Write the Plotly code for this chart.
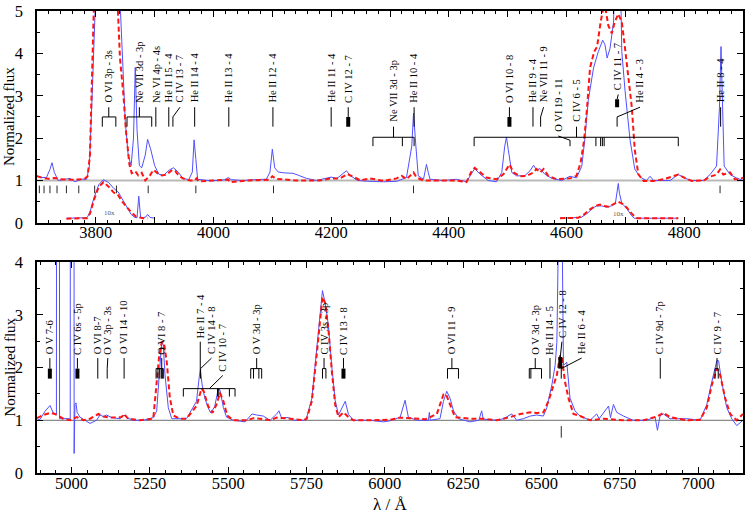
import plotly.graph_objects as go

FONT = "Liberation Serif"

# ---------------- data : upper panel (3700 - 4900 A) ----------------
top_obs_wl = [3700, 3708, 3716, 3722, 3725.5, 3729.5, 3736, 3747.6, 3756, 3764.6, 3776, 3784.4, 3789, 3793, 3797,
              3803, 3812, 3822, 3834, 3840, 3845, 3850, 3855, 3860, 3864, 3867, 3870, 3874, 3878, 3884, 3888,
              3893, 3900, 3907, 3915, 3925, 3932, 3940, 3948, 3958, 3964, 3967, 3970, 3973, 3990, 4010, 4020,
              4025, 4030, 4050, 4070, 4090, 4096, 4100, 4104, 4110, 4120, 4135, 4145, 4158, 4175, 4190, 4200,
              4210, 4220, 4226, 4232, 4245, 4266, 4289, 4311, 4328, 4337, 4340, 4344, 4348, 4357, 4359.5, 4362,
              4365, 4368, 4391, 4413, 4430, 4439, 4444, 4453, 4467, 4481, 4490, 4495, 4498, 4501, 4507, 4515,
              4529, 4538, 4544, 4549, 4555, 4563, 4575, 4592, 4606, 4617, 4626, 4631, 4637, 4646, 4654, 4661.5,
              4665.5, 4669, 4674, 4680, 4683, 4688, 4692, 4694, 4699.5, 4708, 4716, 4725, 4736, 4742, 4748,
              4776, 4790, 4801, 4810, 4833, 4844, 4855, 4860, 4862.6, 4865.5, 4868, 4878, 4889, 4900]
top_obs_fx = [1.11, 1.07, 1.07, 1.26, 1.42, 1.19, 1.0, 1.03, 1.05, 0.97, 1.03, 1.03, 1.34, 2.73, 5.6,
              8.5, 10.2, 9.0, 7.6, 5.6, 3.8, 2.4, 1.6, 1.35, 2.0, 3.67, 2.2, 1.35, 1.3, 1.6, 1.97,
              1.75, 1.35, 1.15, 1.12, 1.25, 1.3, 1.2, 1.05, 1.02, 1.2, 1.96, 1.5, 1.03, 1.0, 1.0, 1.02,
              1.07, 1.02, 1.0, 1.02, 1.03, 1.2, 1.74, 1.3, 1.2, 1.18, 1.17, 1.12, 1.05, 1.0, 1.05, 1.08,
              1.05, 1.15, 1.23, 1.12, 1.0, 0.98, 0.97, 0.98, 1.07, 1.81, 2.59, 1.81, 1.11, 1.03, 1.26, 1.38,
              1.19, 1.03, 1.0, 1.03, 0.97, 1.19, 1.28, 1.15, 1.0, 0.97, 1.19, 1.81, 2.02, 1.73, 1.19, 1.11,
              1.11, 1.23, 1.36, 1.25, 1.28, 1.15, 1.05, 1.0, 1.1, 1.06, 1.34, 1.96, 2.89, 3.66, 4.04, 4.31,
              4.2, 3.89, 4.12, 4.74, 5.6, 9.2, 5.6, 4.04, 3.12, 1.96, 1.27, 1.08, 1.0, 1.1, 1.0,
              1.0, 1.14, 1.06, 1.0, 1.0, 1.14, 1.34, 2.73, 4.16, 2.73, 1.34, 1.14, 1.06, 1.0]

top_mod_wl = [3700, 3710, 3720, 3730, 3740, 3760, 3780, 3786, 3790, 3794, 3797, 3805, 3813, 3825, 3836, 3841,
              3847, 3851, 3854, 3857, 3861, 3867, 3872, 3878, 3884, 3892, 3898, 3904, 3912, 3920, 3930, 3935,
              3942, 3950, 3960, 3968, 3971, 3975, 4000, 4025, 4028, 4060, 4095, 4100, 4106, 4140, 4180, 4200,
              4215, 4228, 4240, 4250, 4266, 4289, 4311, 4320, 4328, 4340, 4345, 4357, 4379, 4413, 4430, 4439,
              4444, 4453, 4464, 4481, 4493, 4503, 4510, 4521, 4532, 4544, 4549, 4555, 4561, 4569, 4583, 4606,
              4617, 4624, 4630, 4635, 4640, 4647, 4652, 4658, 4663, 4667, 4671, 4677, 4682, 4688, 4694, 4699.5,
              4705, 4711, 4716, 4722, 4731, 4748, 4765, 4782, 4790, 4801, 4813, 4833, 4844, 4855, 4861, 4866.5,
              4878, 4886, 4895, 4900]
top_mod_fx = [1.1, 1.06, 1.04, 1.06, 1.03, 1.02, 1.03, 1.1, 1.6, 3.5, 5.3, 8.5, 9.6, 8.0, 5.5, 3.9,
              3.0, 2.2, 1.7, 1.38, 1.17, 1.22, 1.12, 1.18, 1.0, 1.12, 1.25, 1.18, 1.12, 1.14, 1.25, 1.22,
              1.1, 1.04, 1.0, 1.0, 1.05, 0.98, 1.0, 1.02, 0.96, 1.0, 1.02, 1.1, 1.04, 1.0, 1.0, 1.05,
              1.05, 1.15, 1.07, 1.0, 1.05, 0.99, 1.05, 1.11, 1.03, 1.19, 1.07, 1.0, 1.0, 1.0, 0.96, 1.23,
              1.3, 1.19, 1.07, 1.03, 1.15, 1.38, 1.19, 1.1, 1.11, 1.19, 1.27, 1.19, 1.27, 1.11, 1.03, 1.05,
              1.11, 1.42, 1.96, 2.73, 3.66, 4.04, 4.16, 4.74, 5.1, 5.0, 4.66, 4.47, 4.74, 4.93, 4.74, 4.12,
              3.5, 2.73, 1.73, 1.15, 0.99, 0.99, 1.03, 1.11, 1.14, 1.06, 0.99, 1.0, 1.09, 1.14, 1.26, 1.14,
              1.19, 1.03, 1.03, 1.07]

# strong lines reduced by a factor 10
ins_ovi_obs_wl = [3750, 3785, 3790, 3797, 3805, 3813, 3822, 3830, 3838, 3845, 3853, 3860, 3866, 3870, 3873,
                  3876, 3880, 3885, 3888, 3892, 3900]
ins_ovi_obs_fx = [0.11, 0.12, 0.25, 0.6, 0.9, 1.02, 0.95, 0.82, 0.73, 0.55, 0.35, 0.2, 0.13, 0.12, 0.63,
                  0.14, 0.12, 0.14, 0.2, 0.13, 0.11]
ins_ovi_mod_wl = [3750, 3785, 3790, 3797, 3805, 3813, 3822, 3830, 3838, 3845, 3857, 3868, 3880, 3888]
ins_ovi_mod_fx = [0.1, 0.11, 0.22, 0.55, 0.85, 0.96, 0.85, 0.72, 0.65, 0.5, 0.3, 0.15, 0.11, 0.11]

ins_heii_obs_wl = [4589, 4625, 4635, 4645, 4651, 4660, 4668, 4676, 4683, 4686, 4688, 4690, 4694, 4702, 4710,
                   4715, 4790]
ins_heii_obs_fx = [0.11, 0.13, 0.22, 0.35, 0.4, 0.4, 0.37, 0.4, 0.45, 0.7, 0.93, 0.7, 0.46, 0.35, 0.18,
                   0.11, 0.11]
ins_heii_mod_wl = [4589, 4620, 4630, 4640, 4650, 4657, 4665, 4671, 4680, 4688, 4695, 4703, 4712, 4720, 4790]
ins_heii_mod_fx = [0.11, 0.12, 0.2, 0.32, 0.4, 0.43, 0.4, 0.38, 0.44, 0.5, 0.45, 0.35, 0.2, 0.11, 0.11]

# ---------------- data : lower panel (4890 - 7143 A) ----------------
bot_obs_wl = [4890, 4900, 4915.5, 4931.5, 4942, 4950.6, 4952, 4954, 4960, 4962, 4985, 4996, 4998.5, 5007,
              5008.5, 5011, 5014.5, 5018, 5027, 5059, 5080, 5091, 5102, 5112, 5128, 5155, 5167.7, 5176, 5197,
              5229, 5261, 5272, 5280, 5288, 5293, 5298.5, 5309, 5320, 5367, 5388.7, 5399, 5406, 5411, 5417,
              5425.6, 5436, 5444.5, 5457, 5468.7, 5474, 5484.8, 5495, 5516.6, 5554, 5576, 5591, 5612, 5634,
              5655, 5662, 5670, 5693, 5709, 5741, 5750.8, 5767, 5783, 5793.5, 5801, 5809.7, 5820, 5831, 5841.5,
              5852, 5863, 5873.7, 5884, 5900, 5953, 5995.5, 6017, 6049, 6064.6, 6075, 6102, 6139, 6142, 6145,
              6176, 6187, 6197.6, 6208, 6219, 6235, 6272, 6300, 6309, 6314, 6357, 6378.5, 6405, 6421, 6442,
              6464, 6485, 6506, 6517, 6533, 6543.4, 6549, 6554, 6557, 6563, 6566, 6570, 6580.6, 6586, 6591,
              6607, 6623, 6655, 6676, 6684, 6714, 6720, 6729.6, 6740, 6761.5, 6793, 6836, 6862.5, 6870, 6878.5,
              6889, 6910, 6964, 7006, 7027.5, 7043.5, 7059.5, 7065, 7075, 7091, 7107, 7123, 7143]
bot_obs_fx = [1.0, 1.02, 1.17, 1.28, 1.14, 1.1, 1.1, 30, 30, 1.03, 1.03, 1.03, 30, 30,
              0.37, 1.3, 1.33, 1.15, 1.06, 0.94, 1.0, 1.1, 1.07, 1.1, 1.05, 1.03, 1.1, 1.05, 1.0,
              1.0, 1.05, 1.18, 1.85, 2.48, 2.43, 1.86, 1.24, 1.03, 1.03, 1.24, 1.36, 1.73, 1.98, 1.67,
              1.42, 1.24, 1.14, 1.26, 1.6, 1.57, 1.24, 1.06, 1.0, 0.97, 1.12, 1.1, 1.08, 1.0,
              1.12, 1.18, 1.05, 1.05, 1.0, 1.0, 1.06, 1.41, 2.34, 3.09, 3.46, 3.22, 2.8, 2.0, 1.38,
              1.1, 1.24, 1.36, 1.11, 1.0, 1.0, 0.97, 0.99, 1.06, 1.38, 1.06, 1.0, 1.0, 1.15, 1.0,
              1.03, 1.36, 1.55, 1.42, 1.18, 1.03, 0.97, 1.0, 1.18, 1.02, 1.0, 1.03, 1.12, 1.0, 1.03,
              1.08, 1.1, 1.08, 1.24, 1.67, 2.04, 2.48, 4.5, 8.0, 8.0, 4.5, 2.04, 2.1, 1.73, 1.42,
              1.18, 1.08, 1.0, 1.12, 1.03, 1.27, 1.05, 1.3, 1.15, 1.08, 1.0, 1.0, 1.06, 0.81, 1.09,
              1.12, 1.03, 1.03, 1.0, 1.3, 1.73, 2.13, 2.13, 1.73, 1.24, 1.03, 0.9, 1.0]

bot_mod_wl = [4890, 4910, 4931.5, 4947.5, 4974, 4995.5, 5016.8, 5038, 5059, 5086, 5102, 5123, 5160, 5167.7,
              5181, 5218, 5261, 5272, 5280, 5288, 5295, 5304, 5314, 5325, 5346, 5367, 5389, 5399, 5415, 5422,
              5436, 5450, 5463, 5474, 5485, 5497, 5516.6, 5559, 5581, 5602, 5634, 5655, 5698, 5741, 5750.8,
              5767, 5783, 5793.5, 5801, 5809.7, 5820, 5831, 5841.5, 5852, 5868, 5884, 5900, 5953, 6017, 6049,
              6090, 6130, 6166, 6187, 6195.5, 6208, 6224, 6272, 6315, 6357, 6400, 6432, 6464, 6485, 6506,
              6522, 6538, 6549, 6559.3, 6564.6, 6575, 6586, 6602, 6623, 6655, 6698, 6761.5, 6825, 6868, 6889,
              6910, 6964, 7006, 7027.5, 7043.5, 7059.5, 7070, 7086, 7102, 7123, 7143]
bot_mod_fx = [1.04, 1.1, 1.14, 1.12, 1.03, 1.0, 1.06, 1.0, 1.03, 1.12, 1.07, 1.05, 1.06, 1.12,
              1.03, 1.0, 1.03, 1.67, 2.23, 2.48, 2.48, 2.11, 1.43, 1.09, 1.03, 1.03, 1.2, 1.27, 1.6, 1.55,
              1.27, 1.14, 1.3, 1.52, 1.36, 1.09, 1.0, 1.0, 1.04, 1.03, 1.0, 1.05, 1.03, 1.0, 1.03,
              1.36, 2.27, 2.97, 3.34, 3.22, 2.72, 1.92, 1.3, 1.06, 1.15, 1.06, 1.0, 1.0, 1.01, 1.05,
              1.03, 1.02, 1.12, 1.49, 1.49, 1.3, 1.06, 1.03, 1.03, 1.0, 1.06, 1.12, 1.15, 1.14, 1.15,
              1.36, 1.67, 1.86, 2.23, 2.2, 1.73, 1.42, 1.12, 1.08, 1.0, 1.03, 1.0, 1.0, 1.07, 1.14,
              1.06, 1.0, 1.01, 1.24, 1.67, 1.98, 1.86, 1.42, 1.12, 1.0, 1.12]

# Balmer / He II (even) positions marked under the continuum
balmer_top = [3704, 3712, 3722, 3734, 3750, 3771, 3798, 3835, 3889, 3970, 4102, 4340, 4861]
balmer_bot = [6563]

# line identifications: text, x of text, level, component wavelengths, kind, join-x
top_labels = [
    ("O VI 3p - 3s", 3822, "A", [3811, 3834], "bracket", None),
    ("Ne VII 3d - 3p", 3874, "A", [3853, 3895], "bracket", None),
    ("Ne VI 4p - 4s", 3902, "A", [3902], "single", None),
    ("He II 15 - 4", 3924, "A", [3924], "single", None),
    ("C IV 13 - 7", 3943, "A", [3931], "single", None),
    ("He II 14 - 4", 3968, "A", [3968], "single", None),
    ("He II 13 - 4", 4026, "A", [4026], "single", None),
    ("He II 12 - 4", 4101, "A", [4101], "single", None),
    ("He II 11 - 4", 4200, "A", [4200], "single", None),
    ("C IV 12 - 7", 4229, "A", [4229], "block", None),
    ("Ne VII 3d - 3p", 4306, "B", [4271, 4321, 4341], "bracket", None),
    ("He II 10 - 4", 4341, "A", [4341], "single", None),
    ("O VI 10 - 8", 4503, "A", [4503], "block", None),
    ("He II 9 - 4", 4543, "A", [4543], "single", None),
    ("Ne VII 11 - 9", 4561, "A", [4556], "single", None),
    ("O VI 19 - 11", 4586, "D", [4606], "single", None),
    ("C IV 6 - 5", 4617, "B", [4443, 4650, 4658, 4661, 4664, 4790], "bracket", None),
    ("C IV 11 - 7", 4688, "C", [4686], "block", None),
    ("He II 4 - 3", 4725, "A", [4686], "single", None),
    ("He II 8 - 4", 4862, "A", [4862], "single", None),
]
bot_labels = [
    ("O V 7-6", 4931, "A", [4931], "block", None),
    ("C IV 6s - 5p", 5019, "A", [5019], "block", None),
    ("O VI 8-7", 5084, "A", [5084], "single", None),
    ("O V 3p - 3s", 5116, "A", [5114], "single", None),
    ("O VI 14 - 10", 5168, "A", [5168], "single", None),
    ("O VI 8 - 7", 5288, "A", [5270, 5276, 5282, 5287, 5291, 5293], "bracket", None),
    ("He II 7 - 4", 5411, "H", [5411], "single", None),
    ("C IV 14 - 8", 5447, "A", [5412], "single", None),
    ("C IV 10 - 7", 5483, "L", [5357, 5466, 5470, 5504, 5522], "bracket", 5440),
    ("O V 3d - 3p", 5591, "A", [5572, 5581, 5598, 5607], "bracket", None),
    ("C IV 3s - 3p", 5806, "A", [5801, 5812], "bracket", None),
    ("C IV 13 - 8", 5868, "A", [5868], "block", None),
    ("O VI 11 - 9", 6214, "A", [6200, 6235], "bracket", None),
    ("O V 3d - 3p", 6480, "A", [6461, 6466, 6500], "bracket", None),
    ("He II 14 - 5", 6527, "A", [6527], "single", None),
    ("C IV 12 - 8", 6565, "H", [6560], "block", None),
    ("He II 6 - 4", 6628, "A", [6563], "single", None),
    ("C IV 9d - 7p", 6879, "A", [6879], "single", None),
    ("C IV 9 - 7", 7060, "A", [7054, 7064], "bracket", None),
]

# ---------------- styling ----------------
TOP_LEVELS = {"A": (2.79, 2.73, 2.50, 2.27), "B": (2.33, 2.27, 2.02, 1.81),
              "C": (3.08, 3.03, 2.92, 2.73), "D": (2.10, 2.05, 1.95, 1.81)}
BOT_LEVELS = {"A": (2.21, 2.18, 1.98, 1.79), "H": (2.52, 2.49, 2.2, 1.98),
              "L": (1.88, 1.85, 1.60, 1.45)}
BLUE = "rgb(80,80,255)"
RED = "rgb(255,20,20)"
X1 = (3700, 4900)
X2 = (4890, 7143)
LABEL_SIZE = 10.5

fig = go.Figure()


def add_spec(wl, fx, color, width, dash, xa, ya):
    fig.add_trace(go.Scatter(x=wl, y=fx, mode="lines", xaxis=xa, yaxis=ya,
                             line=dict(color=color, width=width, dash=dash),
                             hoverinfo="skip", showlegend=False))


add_spec(top_obs_wl, top_obs_fx, BLUE, 1, "solid", "x", "y")
add_spec(ins_ovi_obs_wl, ins_ovi_obs_fx, BLUE, 1, "solid", "x", "y")
add_spec(ins_heii_obs_wl, ins_heii_obs_fx, BLUE, 1, "solid", "x", "y")
add_spec(top_mod_wl, top_mod_fx, RED, 2, "5px,3px", "x", "y")
add_spec(ins_ovi_mod_wl, ins_ovi_mod_fx, RED, 2, "5px,3px", "x", "y")
add_spec(ins_heii_mod_wl, ins_heii_mod_fx, RED, 2, "5px,3px", "x", "y")
add_spec(bot_obs_wl, bot_obs_fx, BLUE, 1, "solid", "x2", "y2")
add_spec(bot_mod_wl, bot_mod_fx, RED, 2, "5px,3px", "x2", "y2")


def seg(x0, y0, x1, y1, xr, yr, width=1, color="black", layer="above"):
    fig.add_shape(type="line", x0=x0, y0=y0, x1=x1, y1=y1, xref=xr, yref=yr,
                  line=dict(color=color, width=width), layer=layer)


# continuum
seg(X1[0], 1, X1[1], 1, "x", "y", width=2, color="rgb(185,185,185)", layer="below")
seg(X2[0], 1, X2[1], 1, "x2", "y2", width=1.2, color="rgb(140,140,140)", layer="below")
for w in balmer_top:
    seg(w, 0.70, w, 0.88, "x", "y", color="rgb(40,40,40)")
for w in balmer_bot:
    seg(w, 0.67, w, 0.89, "x2", "y2", color="rgb(40,40,40)")


def draw_labels(labels, levels, xr, yr):
    for text, xt, lev, comps, kind, join in labels:
        yt, ytop, ymid, ybot = levels[lev]
        fig.add_annotation(x=xt, y=yt, xref=xr, yref=yr, text=text, textangle=-90,
                           xanchor="center", yanchor="bottom", showarrow=False,
                           font=dict(family=FONT, size=LABEL_SIZE, color="black"))
        if kind == "single":
            c = comps[0]
            if abs(c - xt) < 0.5:
                seg(xt, ytop, xt, ybot, xr, yr)
            else:
                seg(xt, ytop, c, ymid, xr, yr)
                seg(c, ymid, c, ybot, xr, yr)
        elif kind == "block":
            c = comps[0]
            seg(xt, ytop, c, ymid, xr, yr)
            seg(c, ymid, c, ybot, xr, yr, width=4)
        else:
            j = xt if join is None else join
            seg(xt, ytop, j, ymid, xr, yr)
            seg(min(comps), ymid, max(comps), ymid, xr, yr)
            for c in comps:
                seg(c, ymid, c, ybot, xr, yr)


draw_labels(top_labels, TOP_LEVELS, "x", "y")
draw_labels(bot_labels, BOT_LEVELS, "x2", "y2")

for xx, yy in ((3824, 0.24), (4688, 0.2)):
    fig.add_annotation(x=xx, y=yy, xref="x", yref="y", text="10x", showarrow=False,
                       font=dict(family=FONT, size=7, color="rgb(90,90,90)"))

axis_common = dict(showline=True, linecolor="black", linewidth=1.5, mirror="ticks",
                   ticks="inside", ticklen=6, tickwidth=1, tickcolor="black",
                   showgrid=False, zeroline=False,
                   tickfont=dict(family=FONT, size=16.5, color="black"))

top_xt = list(range(3700, 4901, 100))
fig.update_layout(
    width=747, height=516, margin=dict(l=37, r=4, t=2, b=43),
    paper_bgcolor="white", plot_bgcolor="white", showlegend=False,
    xaxis=dict(range=list(X1), domain=[0, 1], anchor="y", tickvals=top_xt, ticklabelstandoff=-6,
               ticktext=[str(v) if v % 200 == 0 else "" for v in top_xt],
               minor=dict(dtick=20, ticklen=3, tickcolor="black", ticks="inside"), **axis_common),
    yaxis=dict(range=[0, 5], domain=[0.5414, 1], anchor="x", dtick=1, ticklabelstandoff=9,
               minor=dict(dtick=0.5, ticklen=3, tickcolor="black", ticks="inside"), **axis_common),
    xaxis2=dict(range=list(X2), domain=[0, 1], anchor="y2", dtick=250, tick0=5000, ticklabelstandoff=-6,
                minor=dict(dtick=50, ticklen=3, tickcolor="black", ticks="inside"), **axis_common),
    yaxis2=dict(range=[0, 4], domain=[0, 0.4565], anchor="x2", dtick=1, ticklabelstandoff=9,
                minor=dict(dtick=0.5, ticklen=3, tickcolor="black", ticks="inside"), **axis_common),
)

for yc in (0.5414 + (1 - 0.5414) / 2, 0.4565 / 2):
    fig.add_annotation(x=-0.0395, y=yc, xref="paper", yref="paper", text="Normalized flux",
                       textangle=-90, showarrow=False, xanchor="center", yanchor="middle",
                       font=dict(family=FONT, size=15, color="black"))
fig.add_annotation(x=0.5, y=-0.068, xref="paper", yref="paper", text="λ / Å", showarrow=False,
                   xanchor="center", yanchor="middle", font=dict(family=FONT, size=17, color="black"))

fig.write_html("out.html", config={"displayModeBar": False},
               post_script="document.body.style.margin='0';")
